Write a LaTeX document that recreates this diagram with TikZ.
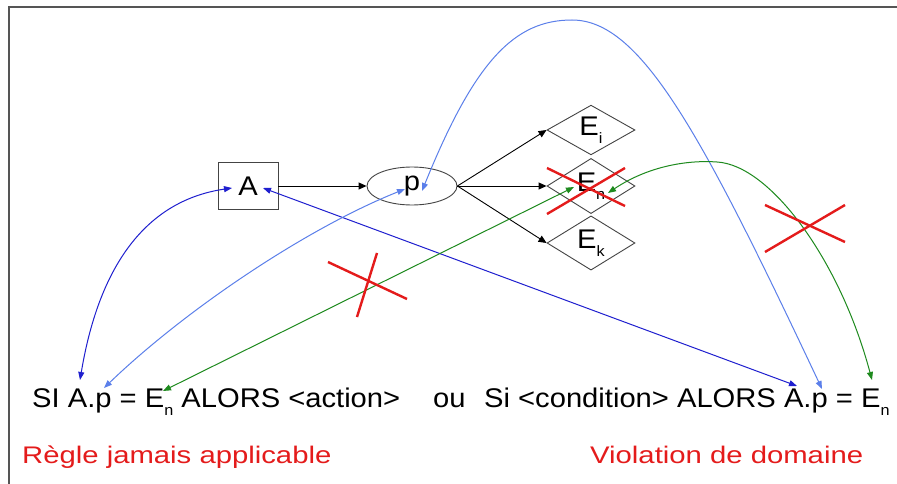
\documentclass[tikz,border=0pt]{standalone}
\usepackage{fontspec}
\setmainfont{Liberation Sans}
\newfontfamily\blkfont[FakeStretch=1.08]{Liberation Sans}
\newfontfamily\redfont[FakeStretch=1.22]{Liberation Sans}
\usetikzlibrary{shapes.geometric,arrows.meta}
\definecolor{dkblue}{HTML}{1F1FCF}
\definecolor{ltblue}{HTML}{5B7FEA}
\definecolor{grn}{HTML}{1E8A1E}
\definecolor{xred}{HTML}{E41B1B}
\definecolor{framegray}{HTML}{555555}
\definecolor{shapegray}{HTML}{444444}
\newcommand\subtxt[1]{\raisebox{-0.3em}{\fontsize{15}{15}\selectfont #1}}
\begin{document}
\begin{tikzpicture}[x=1pt,y=-1pt,
  lbl/.style={font=\blkfont\fontsize{27}{30}\selectfont, inner sep=0pt},
  redlbl/.style={font=\redfont\fontsize{24}{27}\selectfont, text=xred, inner sep=0pt},
  boxnode/.style={lbl, draw=shapegray, line width=0.9pt, rectangle, minimum width=60pt, minimum height=47pt},
  ellnode/.style={lbl, draw=shapegray, line width=0.9pt, ellipse, minimum width=90pt, minimum height=38pt},
  dianode/.style={lbl, draw=shapegray, line width=0.9pt, diamond, minimum width=88pt, minimum height=47pt},
  conn/.style={-{Triangle[length=8pt,width=7pt]}, line width=0.9pt, black},
  both/.style={{Triangle[length=8pt,width=6pt]}-{Triangle[length=8pt,width=6pt]}, line width=1pt},
  cross/.style={draw=xred, line width=2.4pt}
]
\clip (0,0) rectangle (897,484);
\fill[white] (0,0) rectangle (897,484);
% frame
\draw[framegray, line width=1.5pt] (9,484) -- (9,7) -- (897,7);

% nodes
\node[boxnode] (A) at (248,186) {A};
\node[ellnode] (p) at (412,186) {p};
\node[dianode] (Ei) at (591,130) {E\subtxt{i}};
\node[dianode] (En) at (591,186) {E\subtxt{n}};
\node[dianode] (Ek) at (591,243) {E\subtxt{k}};

% texts
\node[lbl, anchor=base west] (left) at (32,407) {SI A.p = E\subtxt{n} ALORS <action>};
\node[lbl, anchor=base west] (ou) at (433,407) {ou};
\node[lbl, anchor=base west] (right) at (484,407) {Si <condition> ALORS A.p = E\subtxt{n}};
\node[redlbl, anchor=base west] (r1) at (22,463) {Règle jamais applicable};
\node[redlbl, anchor=base west] (r2) at (590,463) {Violation de domaine};

% connector ends
\coordinate (lA) at (80,380);
\coordinate (lP) at (104,388);
\coordinate (lE) at (163,391);
\coordinate (rA) at (797,386);
\coordinate (rP) at (822,389);
\coordinate (rE) at (872,380);
\coordinate (Ain1) at (232,188);
\coordinate (Ain2) at (263,188);
\coordinate (pin1) at (405,189);
\coordinate (pin2) at (422,191);
\coordinate (Enin1) at (574,187);
\coordinate (Enin2) at (608,193);

% black connectors
\draw[conn] (A.east) -- (p.west);
\draw[conn] (p.east) -- (Ei.west);
\draw[conn] (p.east) -- (En.west);
\draw[conn] (p.east) -- (Ek.west);

% blue / green connectors
\draw[both, dkblue] (lA) .. controls (100,260) and (150,200) .. (Ain1);
\draw[both, dkblue] (Ain2) -- (rA);
\draw[both, ltblue] (lP) .. controls (184,311) and (305,229) .. (pin1);
\draw[both, ltblue] (pin2) .. controls (475,60) and (515,20) .. (572,20)
   .. controls (640,20) and (700,130) .. (rP);
\draw[both, grn] (lE) -- (Enin1);
\draw[both, grn] (Enin2) .. controls (650,165) and (690,160) .. (717,162)
   .. controls (770,165) and (840,260) .. (rE);

% red crosses
\draw[cross] (547,168) -- (625,206);
\draw[cross] (547,214) -- (625,168);
\draw[cross] (328,262) -- (407,299);
\draw[cross] (377,253) -- (357,317);
\draw[cross] (765,205) -- (845,242);
\draw[cross] (765,252) -- (845,205);
\end{tikzpicture}
\end{document}
